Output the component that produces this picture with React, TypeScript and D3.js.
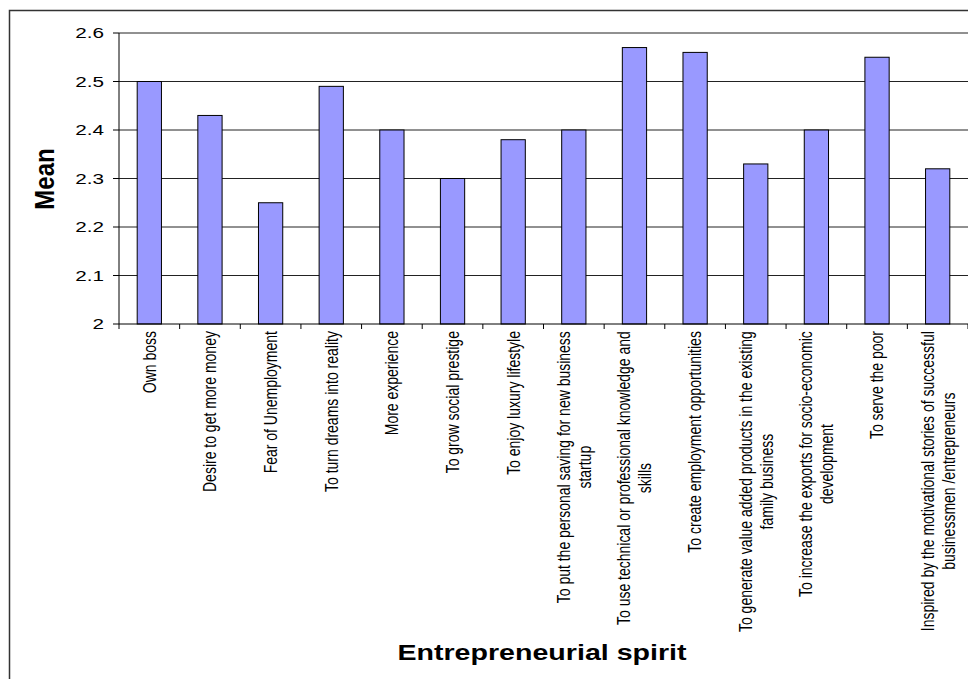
import React, { useEffect, useRef } from "react";
import * as d3 from "d3";

const categories: string[][] = [
  ["Own boss"],
  ["Desire to get more money"],
  ["Fear of Unemployment"],
  ["To turn dreams into reality"],
  ["More experience"],
  ["To grow social prestige"],
  ["To enjoy luxury lifestyle"],
  ["To put the personal saving for new business", "startup"],
  ["To use technical or professional knowledge and", "skills"],
  ["To create employment opportunities"],
  ["To generate value added products in the existing", "family business"],
  ["To increase the exports for socio-economic", "development"],
  ["To serve the poor"],
  ["Inspired by the motivational stories of successful", "businessmen /entrepreneurs"],
];
const means: number[] = [2.5, 2.43, 2.25, 2.49, 2.4, 2.3, 2.38, 2.4, 2.57, 2.56, 2.33, 2.4, 2.55, 2.32];
const yTicks: number[] = [2, 2.1, 2.2, 2.3, 2.4, 2.5, 2.6];
const yTitle = "Mean";
const xTitle = "Entrepreneurial spirit";

const W = 968;
const H = 679;
const FONT = "'Liberation Sans', Arial, Helvetica, sans-serif";

export default function App() {
  const ref = useRef<SVGSVGElement | null>(null);

  useEffect(() => {
    const svg = d3.select(ref.current);
    svg.selectAll("*").remove();

    const left = 119, right = 968, top = 33, bottom = 324;
    const x = d3.scaleBand<number>().domain(d3.range(categories.length)).range([left, right]).paddingInner(0).paddingOuter(0);
    const y = d3.scaleLinear().domain([2, 2.6]).range([bottom, top]);

    // outer border
    svg.append("path")
      .attr("d", `M9.5,${H + 2} L9.5,10.5 L${W + 2},10.5`)
      .attr("fill", "none").attr("stroke", "#333").attr("stroke-width", 1.5);

    // gridlines
    svg.append("g").selectAll("line").data(yTicks.filter((t) => t > 2)).join("line")
      .attr("x1", left).attr("x2", right)
      .attr("y1", (d) => y(d)).attr("y2", (d) => y(d))
      .attr("stroke", "#222").attr("stroke-width", 1);

    // bars
    const bw = x.bandwidth();
    svg.append("g").selectAll("rect").data(means).join("rect")
      .attr("x", (_d, i) => (x(i) as number) + bw * 0.3)
      .attr("width", bw * 0.4)
      .attr("y", (d) => y(d))
      .attr("height", (d) => bottom - y(d))
      .attr("fill", "#9999FF").attr("stroke", "#000").attr("stroke-width", 1);

    // y axis
    svg.append("line").attr("x1", left).attr("x2", left).attr("y1", top).attr("y2", bottom)
      .attr("stroke", "#000").attr("stroke-width", 1);
    svg.append("g").selectAll("line").data(yTicks).join("line")
      .attr("x1", left - 6).attr("x2", left).attr("y1", (d) => y(d)).attr("y2", (d) => y(d))
      .attr("stroke", "#000").attr("stroke-width", 1);
    svg.append("g").selectAll("text").data(yTicks).join("text")
      .attr("transform", (d) => `translate(104,${y(d)}) scale(1.38,1)`)
      .attr("dy", "0.36em")
      .attr("text-anchor", "end")
      .attr("font-family", FONT).attr("font-size", 15).attr("fill", "#000")
      .text((d) => (d === 2 ? "2" : d3.format(".1f")(d)));

    // x axis
    svg.append("line").attr("x1", left).attr("x2", right).attr("y1", bottom).attr("y2", bottom)
      .attr("stroke", "#000").attr("stroke-width", 1);
    const bounds = d3.range(categories.length + 1).map((i) => left + i * bw);
    svg.append("g").selectAll("line").data(bounds).join("line")
      .attr("x1", (d) => d).attr("x2", (d) => d).attr("y1", bottom).attr("y2", bottom + 5)
      .attr("stroke", "#000").attr("stroke-width", 1);

    // x labels
    const sx = 1.3;
    const labelTop = 331;
    const lineGap = 21;
    categories.forEach((lines, i) => {
      const cx = (x(i) as number) + bw / 2;
      const g = svg.append("g");
      const nodes = lines.map((ln) =>
        g.append("text")
          .attr("font-family", FONT).attr("font-size", 14).attr("fill", "#000")
          .attr("text-anchor", "middle").attr("dy", "0.35em")
          .text(ln)
      );
      const lens = nodes.map((n) => (n.node() as SVGTextElement).getComputedTextLength());
      const maxLen = d3.max(lens) || 0;
      const cy = labelTop + maxLen / 2;
      nodes.forEach((n, j) => {
        const vx = cx + (j - (lines.length - 1) / 2) * lineGap;
        n.attr("transform", `translate(${vx},${cy}) scale(${sx},1) rotate(-90)`);
      });
    });

    // titles
    svg.append("text")
      .attr("transform", `translate(44.5,179) scale(1.15,1) rotate(-90)`)
      .attr("dy", "0.36em")
      .attr("text-anchor", "middle")
      .attr("font-family", FONT).attr("font-size", 24).attr("font-weight", "bold")
      .text(yTitle);
    svg.append("text")
      .attr("transform", `translate(542,660) scale(1.3,1)`)
      .attr("text-anchor", "middle")
      .attr("font-family", FONT).attr("font-size", 22).attr("font-weight", "bold")
      .text(xTitle);
  }, []);

  return (
    <svg
      ref={ref}
      width={W}
      height={H}
      style={{ position: "absolute", left: 0, top: 0, display: "block", background: "#fff" }}
    />
  );
}
